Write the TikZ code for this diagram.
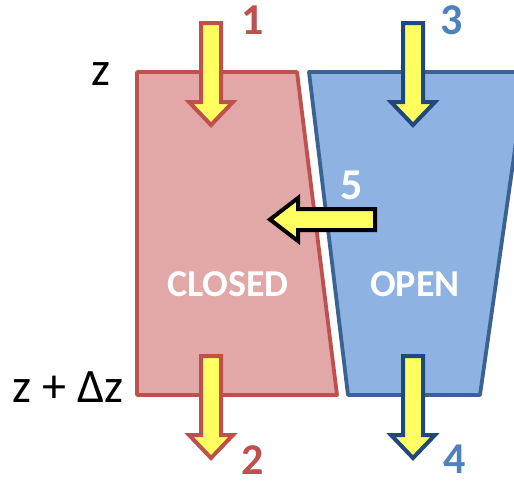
\documentclass[tikz,border=0pt]{standalone}
\usepackage{fontspec}
\setmainfont{Carlito}
\definecolor{redline}{HTML}{C0504D}
\definecolor{redfill}{HTML}{E1A8A7}
\definecolor{blueline}{HTML}{3A6292}
\definecolor{bluefill}{HTML}{8EB3E2}
\definecolor{bluedark}{HTML}{1F497D}
\definecolor{bluetxt}{HTML}{4F81BD}
\definecolor{arrowyellow}{HTML}{FFFF60}
\tikzset{
  vessel/.style={line width=3.8pt, line join=round},
  flowarrow/.style={fill=arrowyellow, line width=4pt, line join=miter},
  numlabel/.style={font=\fontsize{44}{48}\selectfont\bfseries, inner sep=0pt},
  statelabel/.style={font=\fontsize{38}{42}\selectfont\bfseries, text=white, inner sep=0pt},
  zlabel/.style={font=\fontsize{48}{52}\selectfont, inner sep=0pt}
}
\begin{document}
\begin{tikzpicture}[x=1pt,y=-1pt]
\useasboundingbox (0,0) rectangle (514,482);
\clip (0,0) rectangle (514,482);
% vessels
\draw[vessel, draw=redline, fill=redfill] (137,72) -- (297,72) -- (337,395) -- (137,395) -- cycle;
\draw[vessel, draw=blueline, fill=bluefill] (309,72) -- (526,72) -- (480,395) -- (348,395) -- cycle;
% down arrows
\foreach \cx/\top/\col in {211/23/redline, 413/23/bluedark, 211/356/redline, 413/356/bluedark}{
  \draw[flowarrow, draw=\col] (\cx-10,\top) -- (\cx+10,\top) -- (\cx+10,\top+79) -- (\cx+22,\top+79)
     -- (\cx,\top+102) -- (\cx-22,\top+79) -- (\cx-10,\top+79) -- cycle;
}
% horizontal arrow
\draw[flowarrow, draw=black] (375,209) -- (375,230) -- (298,230) -- (298,241) -- (270,219.5)
   -- (298,198) -- (298,209) -- cycle;
% labels
\node[numlabel, text=redline] (n1) at (253,20) {1};
\node[numlabel, text=redline] (n2) at (253,460) {2};
\node[numlabel, text=bluetxt] (n3) at (452,20) {3};
\node[numlabel, text=bluetxt] (n4) at (455,459) {4};
\node[numlabel, text=white] (n5) at (352,185) {5};
\node[statelabel] (closed) at (228,284) {CLOSED};
\node[statelabel] (open) at (415,284) {OPEN};
\node[zlabel] (z) at (101,74) {z};
\node[zlabel] (zdz) at (68,387) {z + Δz};
\end{tikzpicture}
\end{document}
